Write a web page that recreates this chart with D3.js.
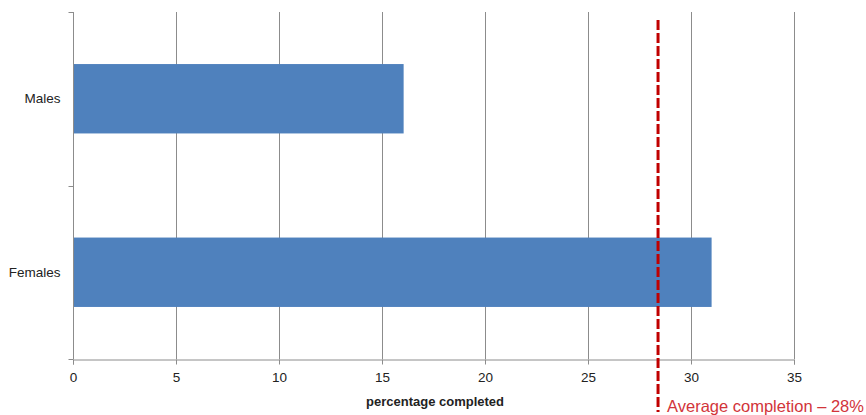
<!DOCTYPE html>
<html><head><meta charset="utf-8">
<script src="https://cdn.jsdelivr.net/npm/d3@7"></script>
<style>body{margin:0;background:#fff}svg{display:block}</style>
</head><body><svg id="c" width="866" height="415"></svg>
<script>
const categories = ["Males", "Females"];
const values = [16.05, 31.0];
const xTicks = [0, 5, 10, 15, 20, 25, 30, 35];
const averageValue = 28.4;
const averageLabel = "Average completion \u2013 28%";
const xTitle = "percentage completed";

const svg = d3.select("#c");
const m = {left: 73, right: 72, top: 12, bottom: 56};
const W = 866, H = 415;
const x = d3.scaleLinear().domain([0, 35]).range([m.left, W - m.right]);
const y = d3.scaleBand().domain(categories).range([m.top, H - m.bottom]).padding(0);
const font = "'Liberation Sans', Arial, sans-serif";

// gridlines
svg.append("g").selectAll("line").data(xTicks.slice(1)).join("line")
  .attr("x1", d => Math.round(x(d)) + 0.5).attr("x2", d => Math.round(x(d)) + 0.5)
  .attr("y1", m.top).attr("y2", H - m.bottom)
  .attr("stroke", "#8c8c8c").attr("stroke-width", 1);

// bars
const bh = y.bandwidth() / 2.5;
svg.append("g").selectAll("rect").data(categories).join("rect")
  .attr("x", x(0)).attr("y", d => y(d) + (y.bandwidth() - bh) / 2)
  .attr("width", (d, i) => x(values[i]) - x(0)).attr("height", bh)
  .attr("fill", "#4f81bd");

// x axis
const xa = svg.append("g").attr("transform", `translate(0,${H - m.bottom + 0.5})`)
  .call(d3.axisBottom(x).tickValues(xTicks).tickSize(5).tickPadding(8));
xa.select(".domain").attr("stroke", "#8c8c8c");
xa.selectAll(".tick line").attr("stroke", "#8c8c8c");
xa.selectAll("text").attr("font-family", font).attr("font-size", 13.5).attr("fill", "#222");

// y axis
const ya = svg.append("g").attr("transform", `translate(${m.left + 0.5},0)`);
ya.append("line").attr("x1", 0).attr("x2", 0).attr("y1", m.top).attr("y2", H - m.bottom).attr("stroke", "#8c8c8c");
const bounds = [m.top].concat(categories.map(c => y(c) + y.bandwidth()));
ya.selectAll("line.t").data(bounds).join("line").attr("class", "t")
  .attr("x1", -5).attr("x2", 0).attr("y1", d => Math.round(d) + 0.5).attr("y2", d => Math.round(d) + 0.5)
  .attr("stroke", "#8c8c8c");
ya.selectAll("text").data(categories).join("text")
  .attr("x", -13).attr("y", d => y(d) + y.bandwidth() / 2).attr("dy", "0.35em")
  .attr("text-anchor", "end").attr("font-family", font).attr("font-size", 13.5).attr("fill", "#222")
  .text(d => d);

// x title
svg.append("text").attr("x", 435).attr("y", 406).attr("text-anchor", "middle")
  .attr("font-family", font).attr("font-size", 13).attr("font-weight", "bold").attr("fill", "#222")
  .text(xTitle);

// average line
svg.append("line").attr("x1", x(averageValue)).attr("x2", x(averageValue))
  .attr("y1", 20).attr("y2", 412)
  .attr("stroke", "#c00000").attr("stroke-width", 3).attr("stroke-dasharray", "10,3");
svg.append("text").attr("x", x(averageValue) + 9).attr("y", 412)
  .attr("font-family", font).attr("font-size", 16.5).attr("fill", "#d2343a")
  .text(averageLabel);
</script></body></html>
